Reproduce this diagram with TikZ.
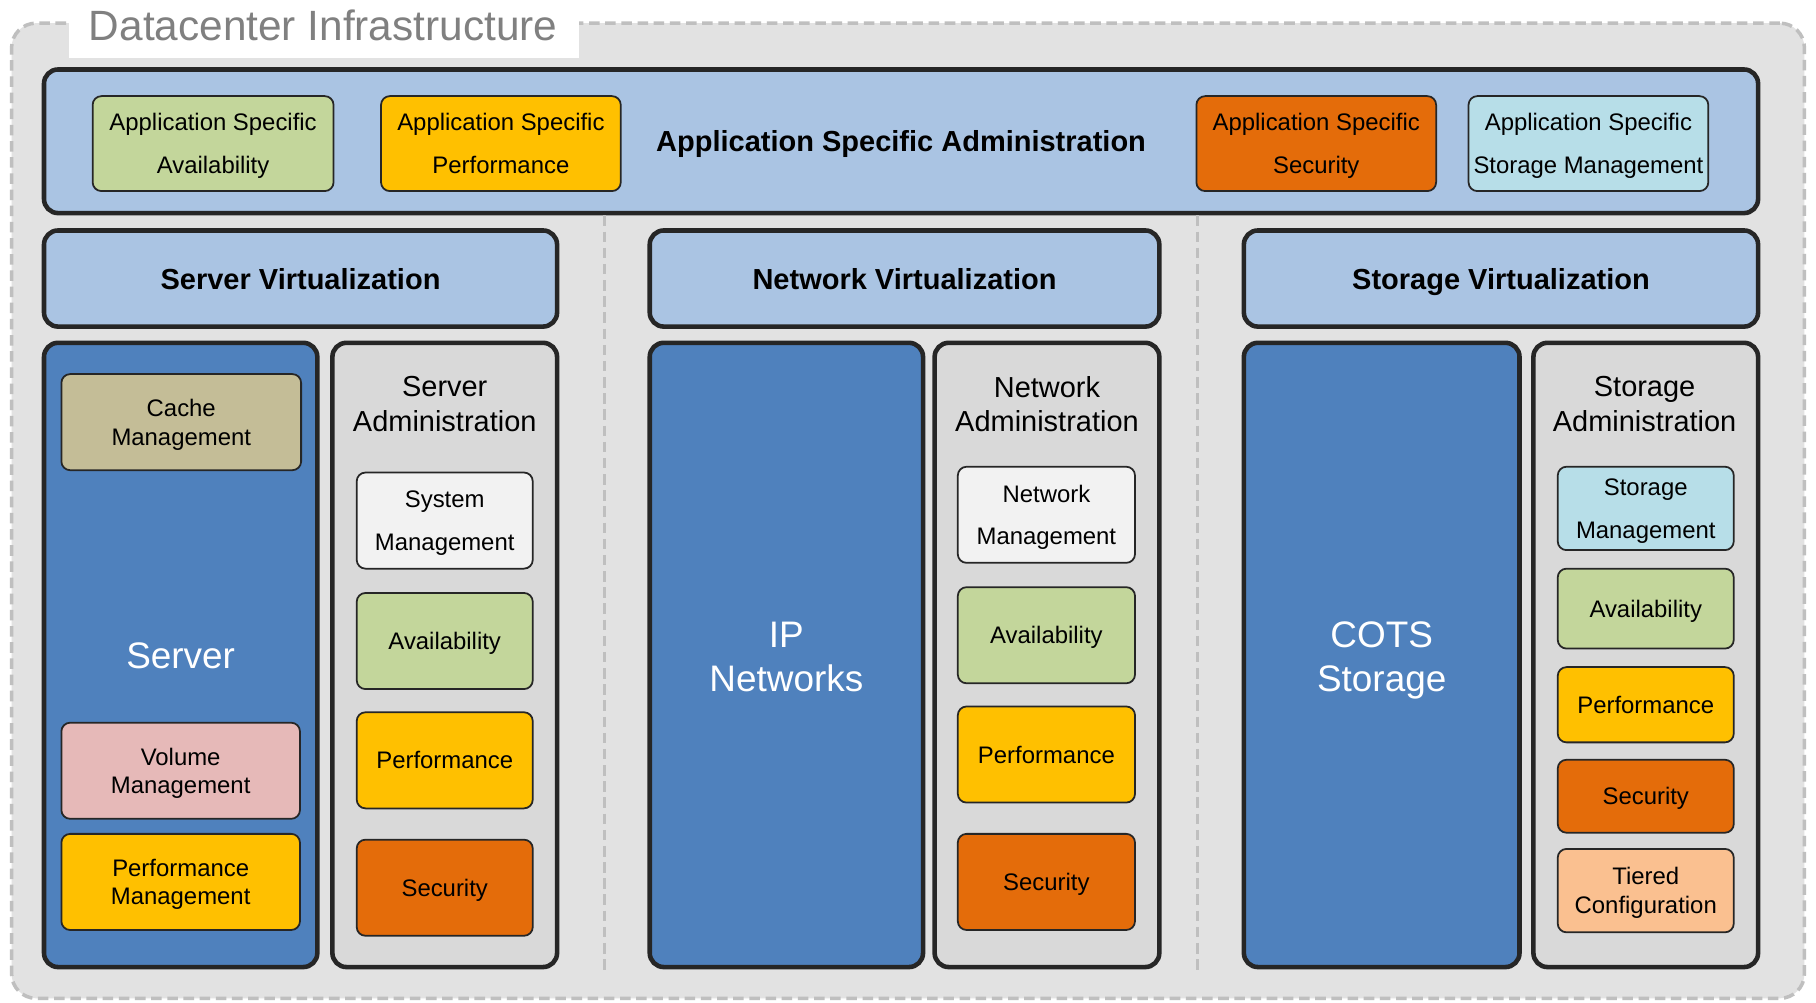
\documentclass[tikz,border=0pt]{standalone}
\usepackage{fontspec}
\setmainfont{Liberation Sans}
\definecolor{edge}{HTML}{262626}
\definecolor{paleblue}{HTML}{AAC4E3}
\definecolor{deepblue}{HTML}{4F81BD}
\definecolor{admgray}{HTML}{D9D9D9}
\definecolor{availgreen}{HTML}{C3D69B}
\definecolor{perfyellow}{HTML}{FFC000}
\definecolor{secorange}{HTML}{E46C0A}
\definecolor{storcyan}{HTML}{B7DEE8}
\definecolor{cachetan}{HTML}{C4BD97}
\definecolor{volpink}{HTML}{E6B9B8}
\definecolor{tierpeach}{HTML}{FAC090}
\definecolor{mgmtwhite}{HTML}{F2F2F2}
\definecolor{framegray}{HTML}{BFBFBF}
\begin{document}
\begin{tikzpicture}[x=0.011582cm, y=-0.011582cm,
    sz/.style 2 args={minimum width=#1*0.011582cm, minimum height=#2*0.011582cm},
    layer/.style={draw=edge, line width=1.3pt, rounded corners=4pt, inner sep=0pt, align=center, text depth=0pt},
    tile/.style={draw=edge, line width=0.5pt, rounded corners=2.5pt, inner sep=0pt, align=center, text depth=0pt,
        font=\fontsize{6.8}{8.2}\selectfont},
    widetile/.style={tile, font=\fontsize{6.8}{12.1}\selectfont},
    heading/.style={font=\bfseries\fontsize{8.25}{10}\selectfont},
    bigwhite/.style={text=white, align=center, text depth=0pt, font=\fontsize{10.5}{12.5}\selectfont},
    admtitle/.style={align=center, text depth=0pt, font=\fontsize{8.24}{9.85}\selectfont},
    sep/.style={draw=framegray, line width=1pt, dash pattern=on 3pt off 1.6pt}]
    \useasboundingbox (0,0) rectangle (1568,866);
    \fill[white] (0,0) rectangle (1568,866);

    % outer frame
    \node[sep, fill=admgray!75, rounded corners=7pt, sz={1548}{842}] (dc) at (784,441) {};
    \node[fill=white, sz={440}{50}] (titlebg) at (280,25) {};
    \node[text=black!50, font=\fontsize{12.05}{14}\selectfont, text depth=0pt] (title) at (279,22) {Datacenter Infrastructure};

    % application layer
    \node[layer, fill=paleblue, sz={1480}{124}, heading] (app) at (778,122) {Application Specific Administration};
    \node[widetile, fill=availgreen, sz={208}{82}] (asa) at (184,124) {Application Specific\\Availability};
    \node[widetile, fill=perfyellow, sz={207}{82}] (asp) at (432.5,124) {Application Specific\\Performance};
    \node[widetile, fill=secorange, sz={207}{82}] (ass) at (1136.5,124) {Application Specific\\Security};
    \node[widetile, fill=storcyan, sz={207}{82}] (assm) at (1371.5,124) {Application Specific\\Storage Management};

    % column separators
    \draw[sep] (522,186) -- (522,842);
    \draw[sep] (1034,186) -- (1034,842);

    % virtualization
    \node[layer, fill=paleblue, sz={443}{83}, heading] (sv) at (259.5,240.5) {Server Virtualization};
    \node[layer, fill=paleblue, sz={440}{83}, heading] (nv) at (781,240.5) {Network Virtualization};
    \node[layer, fill=paleblue, sz={444}{83}, heading] (stv) at (1296,240.5) {Storage Virtualization};

    % server column
    \node[layer, fill=deepblue, sz={236}{539}] (srv) at (156,565.5) {};
    \node[bigwhite] (srvlbl) at (156,566) {Server};
    \node[tile, fill=cachetan, sz={207}{83}] (cache) at (156.5,364.5) {Cache\\Management};
    \node[tile, fill=volpink, sz={206}{83}] (vol) at (156,665.5) {Volume\\Management};
    \node[tile, fill=perfyellow, sz={206}{83}] (pmg) at (156,761.5) {Performance\\Management};
    \node[layer, fill=admgray, sz={194}{539}] (sadm) at (384,565.5) {};
    \node[admtitle] (sadmt) at (384,349) {Server\\Administration};
    \node[widetile, fill=mgmtwhite, sz={152}{83}] (sysm) at (384,449.5) {System\\Management};
    \node[tile, fill=availgreen, sz={152}{83}] (sav) at (384,553.5) {Availability};
    \node[tile, fill=perfyellow, sz={152}{83}] (sperf) at (384,656.5) {Performance};
    \node[tile, fill=secorange, sz={152}{83}] (ssec) at (384,766.5) {Security};

    % network column
    \node[layer, fill=deepblue, sz={236}{539}] (ip) at (679,565.5) {};
    \node[bigwhite] (iplbl) at (679,567) {IP\\Networks};
    \node[layer, fill=admgray, sz={194}{539}] (nadm) at (904,565.5) {};
    \node[admtitle] (nadmt) at (904,349) {Network\\Administration};
    \node[widetile, fill=mgmtwhite, sz={153}{83}] (netm) at (903.5,444.5) {Network\\Management};
    \node[tile, fill=availgreen, sz={153}{83}] (nav) at (903.5,548.5) {Availability};
    \node[tile, fill=perfyellow, sz={153}{83}] (nperf) at (903.5,651.5) {Performance};
    \node[tile, fill=secorange, sz={153}{83}] (nsec) at (903.5,761.5) {Security};

    % storage column
    \node[layer, fill=deepblue, sz={238}{539}] (cots) at (1193,565.5) {};
    \node[bigwhite] (cotslbl) at (1193,567) {COTS\\Storage};
    \node[layer, fill=admgray, sz={194}{539}] (stadm) at (1421,565.5) {};
    \node[admtitle] (stadmt) at (1420,349) {Storage\\Administration};
    \node[widetile, fill=storcyan, sz={152}{72}] (stm) at (1421,439) {Storage\\Management};
    \node[tile, fill=availgreen, sz={152}{69}] (stav) at (1421,525.5) {Availability};
    \node[tile, fill=perfyellow, sz={152}{65}] (stperf) at (1421,608.5) {Performance};
    \node[tile, fill=secorange, sz={152}{63}] (stsec) at (1421,687.5) {Security};
    \node[tile, fill=tierpeach, sz={152}{72}] (tier) at (1421,769) {Tiered\\Configuration};
\end{tikzpicture}
\end{document}
